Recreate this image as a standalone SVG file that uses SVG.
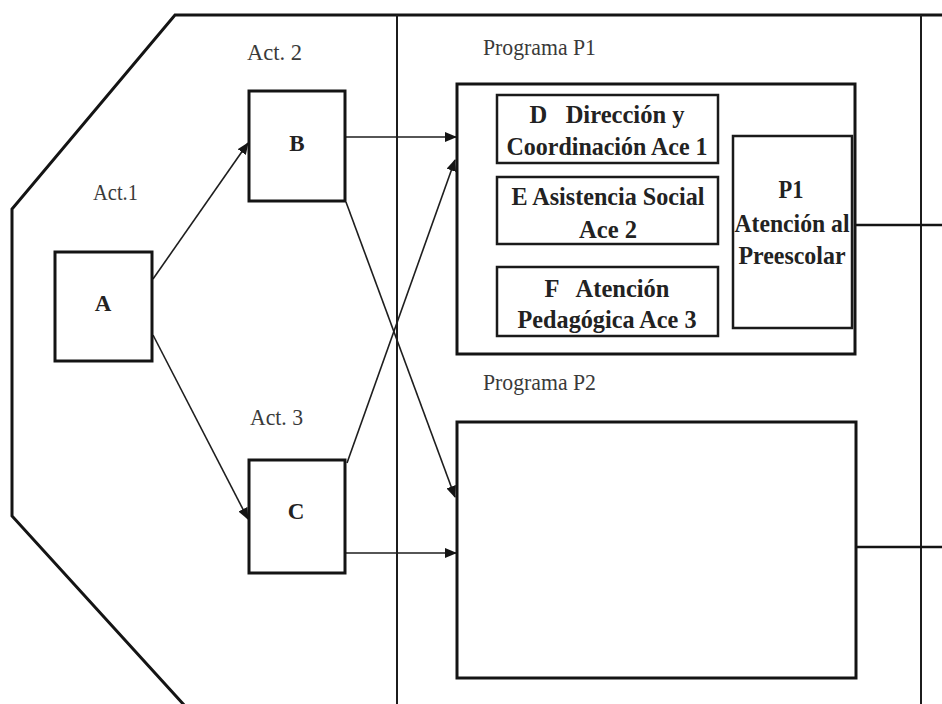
<svg xmlns="http://www.w3.org/2000/svg" width="942" height="704" viewBox="0 0 942 704">
  <style>
    .frame { fill: none; stroke: #141414; stroke-width: 3; stroke-linejoin: miter; }
    .divider { fill: none; stroke: #1c1c1c; stroke-width: 2; }
    .box { fill: #ffffff; stroke: #141414; stroke-width: 3; }
    .sub { fill: #ffffff; stroke: #1a1a1a; stroke-width: 2.5; }
    .edge { fill: none; stroke: #1e1e1e; stroke-width: 1.6; }
    .out { fill: none; stroke: #141414; stroke-width: 2.5; }
    .lbl { font-family: "Liberation Serif", "Times New Roman", serif; font-size: 23px; fill: #3a3a3a; }
    .key { font-family: "Liberation Serif", "Times New Roman", serif; font-size: 23px; font-weight: bold; fill: #222; text-anchor: middle; }
    .txt { font-family: "Liberation Serif", "Times New Roman", serif; font-size: 26px; font-weight: bold; fill: #222; text-anchor: middle; white-space: pre; }
  </style>
  <defs>
    <marker id="arrow" markerUnits="userSpaceOnUse" markerWidth="12" markerHeight="10" refX="11" refY="5" orient="auto">
      <path d="M0,0 L12,5 L0,10 Z" fill="#141414"/>
    </marker>
  </defs>

  <rect width="942" height="704" fill="#ffffff"/>

  <!-- outer frame and column dividers -->
  <g id="frame">
    <polyline class="frame" points="942,15 175,15 12,209 12,516 185,706"/>
    <line class="divider" x1="397" y1="15" x2="397" y2="704"/>
    <line class="divider" x1="921" y1="15" x2="921" y2="704" stroke="#444"/>
  </g>

  <!-- column labels -->
  <g id="labels">
    <text class="lbl" x="93" y="200" textLength="45" lengthAdjust="spacingAndGlyphs">Act.1</text>
    <text class="lbl" x="247" y="60" textLength="55" lengthAdjust="spacingAndGlyphs">Act. 2</text>
    <text class="lbl" x="250" y="425" textLength="53" lengthAdjust="spacingAndGlyphs">Act. 3</text>
    <text class="lbl" x="483" y="55" textLength="113" lengthAdjust="spacingAndGlyphs">Programa P1</text>
    <text class="lbl" x="483" y="390" textLength="113" lengthAdjust="spacingAndGlyphs">Programa P2</text>
  </g>

  <!-- connectors -->
  <g id="connectors">
    <line class="edge" x1="153" y1="279" x2="248" y2="143" marker-end="url(#arrow)"/>
    <line class="edge" x1="153" y1="335" x2="248" y2="519" marker-end="url(#arrow)"/>
    <line class="edge" x1="346" y1="137" x2="456" y2="137" marker-end="url(#arrow)"/>
    <line class="edge" x1="347" y1="463" x2="455" y2="160" marker-end="url(#arrow)"/>
    <line class="edge" x1="346" y1="202" x2="455" y2="497" marker-end="url(#arrow)"/>
    <line class="edge" x1="346" y1="553" x2="456" y2="553" marker-end="url(#arrow)"/>
    <line class="out" x1="852" y1="225" x2="942" y2="225"/>
    <line class="out" x1="856" y1="547" x2="942" y2="547"/>
  </g>

  <g id="node-A">
    <rect class="box" x="55" y="252" width="97" height="109"/>
    <text class="key" x="103" y="311">A</text>
  </g>

  <g id="node-B">
    <rect class="box" x="249" y="91" width="96" height="110"/>
    <text class="key" x="297" y="151">B</text>
  </g>

  <g id="node-C">
    <rect class="box" x="249" y="460" width="96" height="113"/>
    <text class="key" x="296" y="519">C</text>
  </g>

  <g id="program-P1">
    <rect class="box" x="457" y="84" width="398" height="270"/>
  </g>

  <g id="node-D">
    <rect class="sub" x="497" y="95" width="221" height="68"/>
    <text class="txt" x="607" y="123" textLength="155" lengthAdjust="spacingAndGlyphs">D   Dirección y</text>
    <text class="txt" x="607" y="155" textLength="201" lengthAdjust="spacingAndGlyphs">Coordinación Ace 1</text>
  </g>

  <g id="node-E">
    <rect class="sub" x="497" y="177" width="221" height="67"/>
    <text class="txt" x="608" y="205" textLength="193" lengthAdjust="spacingAndGlyphs">E Asistencia Social</text>
    <text class="txt" x="608" y="238" textLength="58" lengthAdjust="spacingAndGlyphs">Ace 2</text>
  </g>

  <g id="node-F">
    <rect class="sub" x="497" y="267" width="221" height="69"/>
    <text class="txt" x="607" y="297" textLength="125" lengthAdjust="spacingAndGlyphs">F   Atención</text>
    <text class="txt" x="607" y="328" textLength="179" lengthAdjust="spacingAndGlyphs">Pedagógica Ace 3</text>
  </g>

  <g id="node-P1">
    <rect class="sub" x="733" y="136" width="119" height="192"/>
    <text class="txt" x="791" y="198" textLength="25" lengthAdjust="spacingAndGlyphs">P1</text>
    <text class="txt" x="792" y="232" textLength="115" lengthAdjust="spacingAndGlyphs">Atención al</text>
    <text class="txt" x="792" y="264" textLength="107" lengthAdjust="spacingAndGlyphs">Preescolar</text>
  </g>

  <g id="program-P2">
    <rect class="box" x="457" y="422" width="399" height="256"/>
  </g>
</svg>
